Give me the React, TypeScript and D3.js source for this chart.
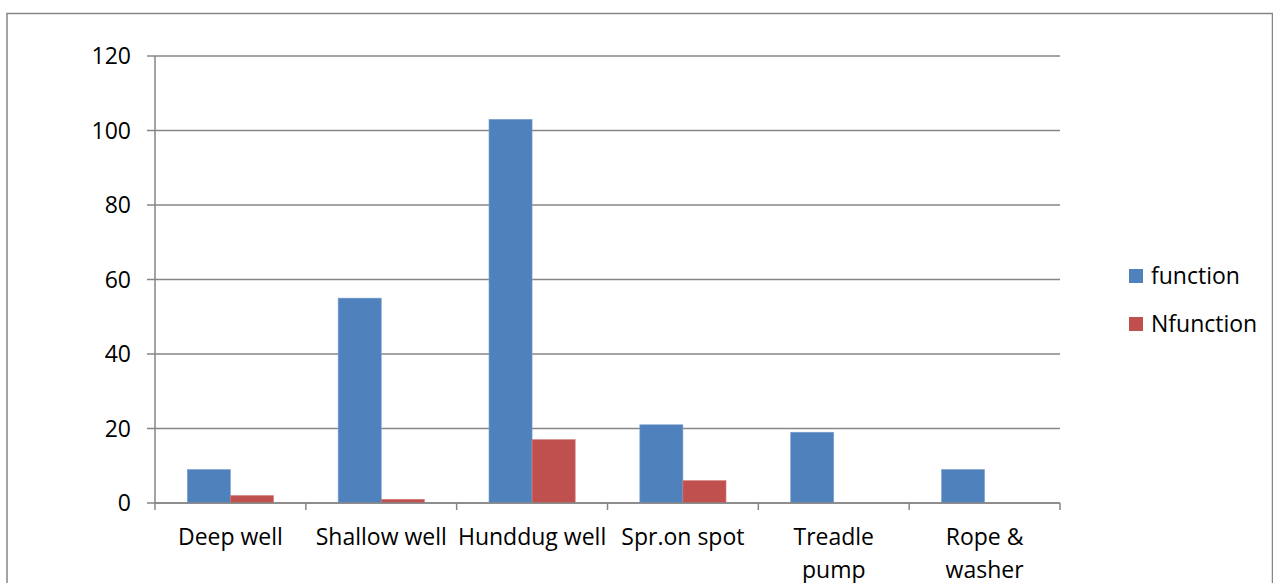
import React from "react";
import * as d3 from "d3";

const categories: string[][] = [
  ["Deep well"],
  ["Shallow well"],
  ["Hunddug well"],
  ["Spr.on spot"],
  ["Treadle", "pump"],
  ["Rope &", "washer"],
];
const functionValues = [9, 55, 103, 21, 19, 9];
const nfunctionValues = [2, 1, 17, 6, 0, 0];
const seriesNames = ["function", "Nfunction"];
const seriesColors = ["#4F81BD", "#C0504D"];
const yTicks = [0, 20, 40, 60, 80, 100, 120];

const W = 1273;
const H = 583;
const left = 155;
const right = 1060;
const top = 56;
const bottom = 503;
const FONT = "'Open Sans', sans-serif";
const FS = 23;

export default function App() {
  const x = d3.scaleBand<number>().domain(d3.range(categories.length)).range([left, right]).padding(0);
  const y = d3.scaleLinear().domain([0, 120]).range([bottom, top]);
  const bw = x.bandwidth();
  const barW = bw / 3.5;
  const series = [functionValues, nfunctionValues];
  const boundaries = d3.range(categories.length + 1).map((i) => left + i * bw);

  return (
    <svg width={W} height={H} style={{ position: "absolute", left: 0, top: 0 }} fontFamily={FONT}>
      <rect x={0} y={0} width={W} height={H} fill="#fff" />
      <rect x={7} y={13.5} width={1265.5} height={H + 10} fill="none" stroke="#868686" strokeWidth={1.5} />
      {yTicks.map((t) => (
        <g key={t}>
          <line x1={left - 8} x2={right} y1={y(t)} y2={y(t)} stroke="#868686" strokeWidth={1.5} />
          <text x={131} y={y(t)} dy="0.35em" textAnchor="end" fontSize={FS} fill="#000">
            {t}
          </text>
        </g>
      ))}
      <line x1={left} x2={left} y1={top} y2={bottom} stroke="#868686" strokeWidth={1.5} />
      {boundaries.map((b, i) => (
        <line key={i} x1={b} x2={b} y1={bottom} y2={bottom + 7} stroke="#868686" strokeWidth={1.5} />
      ))}
      {series.map((vals, s) =>
        vals.map((v, i) =>
          v > 0 ? (
            <rect
              key={`${s}-${i}`}
              x={(x(i) as number) + bw / 2 - barW + s * barW}
              y={y(v)}
              width={barW}
              height={y(0) - y(v)}
              fill={seriesColors[s]}
              stroke={s === 0 ? "#7fa3d0" : "#d07a78"}
              strokeWidth={0.6}
            />
          ) : null
        )
      )}
      <line x1={left} x2={right} y1={bottom} y2={bottom} stroke="#868686" strokeWidth={1.5} />
      {categories.map((lines, i) => (
        <text key={i} textAnchor="middle" fontSize={FS} fill="#000">
          {lines.map((ln, j) => (
            <tspan key={j} x={(x(i) as number) + bw / 2} y={545 + j * 33}>
              {ln}
            </tspan>
          ))}
        </text>
      ))}
      {seriesNames.map((n, s) => (
        <g key={n}>
          <rect x={1129} y={269 + s * 48} width={14} height={14} fill={seriesColors[s]} />
          <text x={1151} y={276 + s * 48} dy="0.35em" fontSize={FS} fill="#000">
            {n}
          </text>
        </g>
      ))}
    </svg>
  );
}
